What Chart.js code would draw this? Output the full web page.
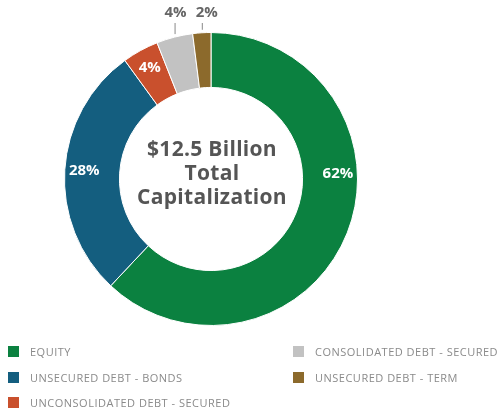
<!DOCTYPE html>
<html>
<head>
<meta charset="utf-8">
<script src="https://cdn.jsdelivr.net/npm/chart.js@4.4.0/dist/chart.umd.min.js"></script>
<style>
  body { margin: 0; background: #fff; width: 501px; height: 416px; overflow: hidden; position: relative; }
  #chart-box { position: absolute; left: 0; top: 0; width: 422px; height: 358px; }
  #legend { position: absolute; left: 8px; top: 341px; width: 493px; font-family: "Open Sans", sans-serif; }
  .item { position: absolute; height: 14px; font-size: 11px; line-height: 14px; color: #8a8a8a; letter-spacing: 0.5px; white-space: nowrap; }
  .item span.box { position: absolute; left: 0; top: 1px; width: 11px; height: 11px; }
  .item span.txt { position: absolute; left: 22px; top: 0; }
</style>
</head>
<body>
<div id="chart-box"><canvas id="myChart"></canvas></div>
<div id="legend"></div>
<script>
const categories = [
  "EQUITY",
  "UNSECURED DEBT - BONDS",
  "UNCONSOLIDATED DEBT - SECURED",
  "CONSOLIDATED DEBT - SECURED",
  "UNSECURED DEBT - TERM",
];
const shares = [62, 28, 4, 4, 2];
const colors = ["#0b8140", "#145e7f", "#c9502d", "#c2c2c2", "#8c6a2c"];
const centerLines = ["$12.5 Billion", "Total", "Capitalization"];

// labels inside the ring, the small ones go above with a leader line
const sliceLabels = {
  id: "sliceLabels",
  afterDatasetsDraw(chart) {
    const ctx = chart.ctx;
    const meta = chart.getDatasetMeta(0);
    ctx.save();
    ctx.textAlign = "center";
    ctx.textBaseline = "middle";
    ctx.font = "bold 15px 'Open Sans', sans-serif";
    meta.data.forEach((arc, i) => {
      const p = arc.getProps(["x", "y", "startAngle", "endAngle", "innerRadius", "outerRadius"], true);
      let mid = (p.startAngle + p.endAngle) / 2;
      const text = shares[i] + "%";
      if (i === 0) mid = -0.04; // big slice label sits at 3 o'clock
      if (i >= 3) {
        const ox = p.x + Math.cos(mid) * p.outerRadius;
        const oy = p.y + Math.sin(mid) * p.outerRadius;
        ctx.strokeStyle = "#888";
        ctx.lineWidth = 1;
        ctx.beginPath();
        ctx.moveTo(ox + 0.5, oy - 3);
        ctx.lineTo(ox + 0.5, 23);
        ctx.stroke();
        ctx.fillStyle = "#666";
        ctx.fillText(text, ox + (i === 4 ? 5 : 1), 13);
      } else {
        const r = (p.innerRadius + p.outerRadius) / 2 + 8;
        ctx.fillStyle = "#fff";
        ctx.fillText(text, p.x + Math.cos(mid) * r, p.y + Math.sin(mid) * r);
      }
    });
    ctx.restore();
  },
};

const centerText = {
  id: "centerText",
  afterDraw(chart) {
    const ctx = chart.ctx;
    const arc = chart.getDatasetMeta(0).data[0];
    ctx.save();
    ctx.textAlign = "center";
    ctx.textBaseline = "middle";
    ctx.fillStyle = "#555";
    ctx.font = "bold 21px 'Open Sans', sans-serif";
    ctx.letterSpacing = "0.3px";
    centerLines.forEach((line, i) => {
      ctx.fillText(line, arc.x + 1, arc.y - 29 + i * 24);
    });
    ctx.restore();
  },
};

const data = {
  labels: categories,
  datasets: [
    {
      data: shares,
      backgroundColor: colors,
      borderColor: "#fff",
      borderWidth: 1,
    },
  ],
};

const config = {
  type: "doughnut",
  data: data,
  options: {
    responsive: true,
    maintainAspectRatio: false,
    animation: false,
    cutout: "62.5%",
    layout: { padding: { top: 32, bottom: 32 } },
    plugins: {
      legend: { display: false },
      tooltip: { enabled: false },
    },
  },
  plugins: [sliceLabels, centerText],
};

let myChart = new Chart(document.getElementById("myChart"), config);

// Legend in two columns, left column first
const legendSlots = [
  [0, 0], [0, 1], [0, 2],
  [1, 0], [1, 1],
];
let legend = document.getElementById("legend");
categories.forEach((name, i) => {
  const [col, row] = legendSlots[i];
  legend.innerHTML += `
    <div class="item" style="left:${col * 285}px; top:${row * 25.5 + 4}px">
      <span class="box" style="background:${colors[i]}"></span>
      <span class="txt">${name}</span>
    </div>`;
});
</script>
</body>
</html>
